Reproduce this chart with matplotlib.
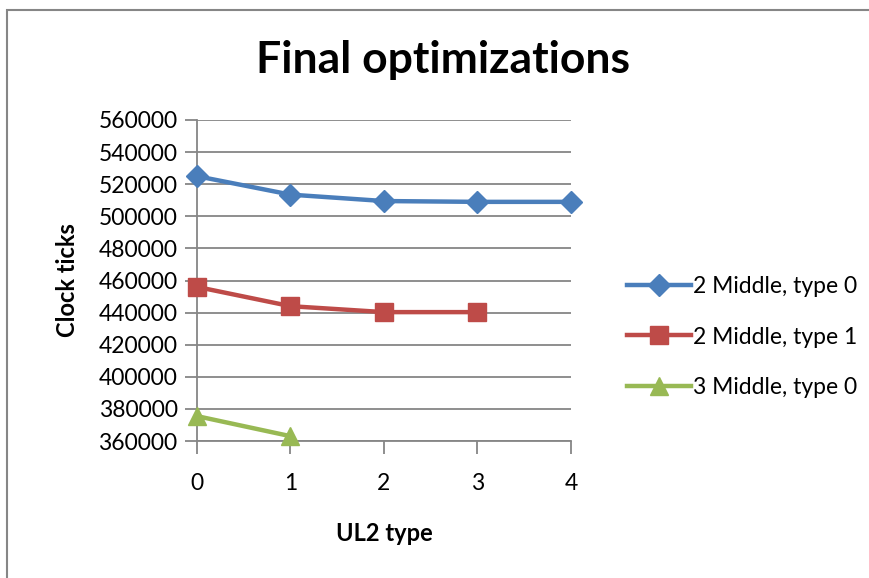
import matplotlib.pyplot as plt
from matplotlib.patches import Rectangle

# clock ticks per UL2 type
ul2_type = [0, 1, 2, 3, 4]
mid2_type0 = [525000, 513500, 509500, 509000, 509000]
mid2_type1 = [456000, 444000, 440300, 440300]
mid3_type0 = [375500, 363000]
labels = ["2 Middle, type 0", "2 Middle, type 1", "3 Middle, type 0"]

plt.rcParams['font.family'] = ['Lato', 'DejaVu Sans']
grid_col = '#868686'

fig = plt.figure(figsize=(8.7, 5.78), dpi=100)
ax = fig.add_axes([197/870, 1-441/578, (571-197)/870, (441-120)/578])

ax.plot(ul2_type, mid2_type0, color='#4a7ebb', lw=3.2, marker='D', ms=11, label=labels[0], clip_on=False, zorder=5)
ax.plot(ul2_type[:4], mid2_type1, color='#be4b48', lw=3.2, marker='s', ms=13, label=labels[1], clip_on=False, zorder=5)
ax.plot(ul2_type[:2], mid3_type0, color='#98b954', lw=3.2, marker='^', ms=13, label=labels[2], clip_on=False, zorder=5)

ax.set_xlim(0, 4)
ax.set_ylim(360000, 560000)
ax.set_yticks(range(360000, 560001, 20000))
ax.set_xticks(ul2_type)
ax.yaxis.grid(True, color=grid_col, lw=1.3)
ax.set_axisbelow(True)
for s in ['top', 'right']:
    ax.spines[s].set_visible(False)
for s in ['left', 'bottom']:
    ax.spines[s].set_color(grid_col)
    ax.spines[s].set_linewidth(1.3)
ax.tick_params(axis='y', length=9, width=1.3, color=grid_col, labelsize=16.5, pad=5)
ax.tick_params(axis='x', length=9, width=1.3, color=grid_col, labelsize=16.5, pad=14)

ax.set_xlabel("UL2 type", fontsize=17, fontweight='bold', labelpad=20)
ax.set_ylabel("Clock ticks", fontsize=17, fontweight='bold', labelpad=14)
fig.text(443/870, 1-60/578, "Final optimizations", ha='center', va='center', fontsize=32, fontweight='bold')

leg = fig.legend(loc='center left', bbox_to_anchor=(606/870, 1-337/578), frameon=False,
                 fontsize=16.5, labelspacing=1.3, handlelength=2.8, handletextpad=0.1)

# chart border
fig.add_artist(Rectangle((7/870, -0.05), 1.0, 1-10/578+0.05, transform=fig.transFigure,
                         fill=False, ec=grid_col, lw=1.5))

fig.savefig("out.png", dpi=100)
